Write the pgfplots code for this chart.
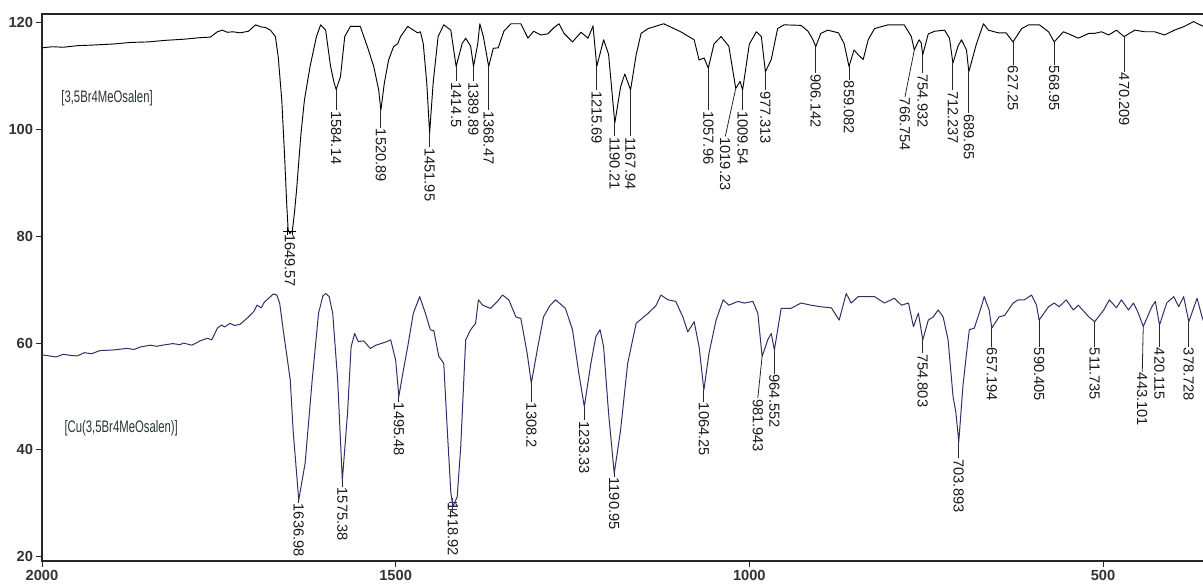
\documentclass[border=0pt]{standalone}
\usepackage{pgfplots}
\pgfplotsset{compat=1.18}
\usepackage{pgfplotstable}
\usepackage{fontspec}
\setmainfont{Liberation Sans}
\definecolor{navy}{RGB}{48,48,104}
\definecolor{namecol}{RGB}{40,52,52}
\tikzset{
  pkline/.style={black!85, line width=0.6pt},
  pklabel/.style={rotate=-90, anchor=west, inner sep=0.6pt, font=\fontsize{11}{11}\selectfont, text=black!90},
}

\pgfplotstableread{
x y
2000 115.3
1985 115.5
1970 115.4
1950 115.7
1930 115.8
1900 116.0
1875 116.3
1850 116.4
1825 116.7
1800 116.9
1776 117.2
1762 117.3
1752 118.3
1745 118.6
1738 118.2
1730 118.3
1720 118.1
1708 118.4
1698 119.6
1690 119.2
1684 119.1
1677 118.6
1670 117.4
1666 113.6
1661 105.5
1657 95.0
1654 86.0
1652 81.2
1649.6 80.5
1646 81.1
1643 84.5
1640 88.8
1634 99.0
1629 105.5
1621 111.8
1612 117.4
1606 119.6
1599 118.6
1592 111.8
1587 108.7
1584.1 107.5
1578 109.9
1572 117.4
1564 119.3
1550 119.3
1540 115.5
1531 111.8
1524 107.4
1520.9 103.6
1516 108.7
1510 113.0
1503 115.5
1497 116.1
1493 117.4
1483 119.3
1469 118.1
1465 118.3
1461 116.1
1456 108.7
1452 99.3
1447 108.7
1440 117.4
1432 119.6
1422 118.6
1414.5 111.8
1406 116.1
1401 117.1
1394 115.6
1389.9 111.8
1384 116.0
1381 119.8
1376 117.4
1368.5 111.8
1362 115.2
1355 115.3
1347 118.4
1337 119.8
1323 119.8
1313 117.1
1305 118.4
1295 117.7
1285 117.9
1276 119.1
1269 119.8
1262 118.0
1250 116.4
1238 118.2
1228 117.1
1221 119.4
1215.7 111.8
1206 116.8
1199 114.1
1190.2 101.2
1182 108.0
1176 110.4
1167.9 107.4
1160 114.0
1153 118.0
1143 118.9
1121 119.8
1097 118.3
1078 116.8
1071 113.0
1064 113.4
1058 111.5
1050 116.0
1040 117.4
1029 115.6
1019.2 107.7
1013 109.0
1009.5 107.4
1000 116.0
990 118.3
983 117.4
977.3 110.8
969 113.1
960 118.9
951 119.6
927 119.5
917 118.4
910 116.8
906.1 115.5
899 118.0
889 118.6
874 118.1
866 116.1
859.1 111.8
852 114.9
846 114.0
839 113.1
832 116.8
823 118.9
804 119.6
781 119.6
771 117.4
766.8 114.9
760 116.8
757 116.2
754.9 114.0
747 117.9
738 118.4
724 118.6
717 117.1
712.2 112.4
705 115.6
700 116.8
693 114.9
689.7 110.8
679 116.0
669 119.8
662 118.6
648 118.1
637 118.1
627.3 116.4
615 118.9
605 119.6
590 119.6
577 118.3
569 116.4
556 118.3
545 117.7
535 117.1
520 118.0
512 118.0
502 118.3
492 117.7
481 118.6
470.2 117.4
455 118.6
441 118.3
427 118.3
413 117.7
399 118.6
385 119.3
372 120.2
358 119.3
350 119.0
}\topspec

\pgfplotstableread{
x y
2000 57.8
1990 57.6
1980 57.4
1970 57.9
1960 57.7
1950 57.6
1940 58.2
1930 58.0
1918 58.6
1900 58.7
1880 59.0
1870 58.8
1860 59.3
1847 59.6
1838 59.4
1830 59.6
1815 59.9
1805 59.7
1800 60.0
1788 59.6
1775 60.5
1766 60.9
1760 60.6
1752 62.8
1746 63.4
1742 63.0
1734 63.7
1728 63.3
1720 63.5
1714 64.2
1708 64.9
1700 66.0
1696 67.1
1690 66.6
1686 67.6
1682 68.1
1677 68.7
1673 69.2
1668 69.0
1664 67.5
1659 62.5
1649 53.1
1645 43.7
1637 30.6
1628 37.5
1618 53.1
1609 65.6
1603 68.8
1599 69.3
1594 68.7
1589 65.6
1582 53.1
1575.4 34.3
1568 46.9
1563 59.3
1558 61.8
1553 60.3
1545 60.4
1536 59.0
1528 59.6
1521 59.9
1514 60.2
1507 60.6
1500 56.8
1495.5 50.0
1489 55.0
1483 59.3
1475 65.6
1466 68.7
1458 65.6
1451 62.5
1446 62.3
1439 57.5
1432 56.2
1427 43.7
1422 32.0
1419 29.4
1413 31.2
1408 40.6
1403 55.0
1401 60.6
1394 62.5
1387 63.7
1383 68.1
1377 67.1
1366 66.5
1356 67.8
1349 69.0
1340 68.1
1330 64.9
1323 64.6
1314 58.0
1308.2 52.5
1299 59.3
1291 64.9
1282 67.0
1274 68.1
1260 66.5
1250 62.5
1241 54.3
1233.3 48.1
1224 56.2
1217 61.2
1211 62.5
1206 59.3
1199 46.9
1191 35.6
1182 43.7
1172 56.2
1160 63.7
1143 65.6
1132 67.0
1125 69.0
1115 68.1
1104 67.8
1094 64.9
1087 62.1
1078 64.0
1071 59.3
1064.3 51.2
1057 58.1
1047 64.3
1037 68.1
1029 67.1
1016 67.8
1007 67.5
995 67.8
988 65.6
981.9 57.5
974 60.6
969 61.8
964.6 58.7
955 66.5
941 66.5
927 67.5
913 67.1
899 66.8
884 66.6
873 64.3
863 69.3
856 67.5
846 68.7
823 68.7
809 67.5
795 68.4
785 67.1
775 67.5
768 63.1
761 65.6
754.8 60.6
747 64.3
740 64.9
733 66.2
726 64.9
719 60.6
712 50.0
708 47.0
703.9 41.5
698 52.0
693 58.0
689 62.5
682 62.8
672 66.8
668 68.7
661 66.2
657.2 62.8
647 64.9
639 65.2
627 67.5
620 68.1
611 68.1
601 69.0
594 67.1
590.4 64.3
577 66.8
569 67.5
562 66.8
552 68.1
542 66.2
535 67.1
520 64.9
511.7 64.0
499 66.2
491 68.1
481 66.6
474 68.1
464 66.2
457 67.5
450 65.6
443.1 63.1
431 66.8
426 67.8
420.1 63.4
410 67.5
400 68.7
393 66.8
386 68.7
378.7 64.0
367 68.4
360 64.9
352 62.0
}\botspec

\newcommand{\pk}[5]{%
  \draw[pkline] (axis cs:#1,#2) -- (axis cs:#3,#4);
  \node[pklabel] at (axis cs:#3,#4) {#5};}

\begin{document}
\begin{tikzpicture}
\begin{axis}[
  scale only axis,
  width=873pt, height=410.25pt,
  x dir=reverse,
  xmin=354.4, xmax=2000,
  ymin=19.19, ymax=121.63,
  xtick={500,1000,1500,2000},
  ytick={20,40,60,80,100,120},
  tick align=outside,
  xtick pos=bottom, ytick pos=left,
  major tick length=4.5pt,
  tick style={black!85, line width=0.7pt},
  axis line style={black!85, line width=0.8pt},
  /pgf/number format/assume math mode=true,
  /pgf/number format/1000 sep={},
  ticklabel style={font=\bfseries\fontsize{11}{11}\selectfont, text=black!80, inner sep=1pt},
  yticklabel style={xshift=-1pt},
  xticklabel style={yshift=-1pt},
  clip=true,
]
\addplot[black, line width=0.7pt, line join=round] table[x=x,y=y] {\topspec};
\addplot[navy, line width=0.75pt, line join=round] table[x=x,y=y] {\botspec};

\addplot[only marks, mark=+, mark size=3pt, black, mark options={line width=0.6pt}] coordinates {(1653,81.0) (1646,81.0)};
\addplot[only marks, mark=+, mark size=3.2pt, navy, mark options={line width=0.8pt}] coordinates {(1419,30.1) (1419,28.9)};

\node[namecol, font=\fontsize{12.5}{12.5}\selectfont, xscale=0.68] at (axis cs:1908,105.9) {[3,5Br4MeOsalen]};
\node[namecol, font=\fontsize{12.5}{12.5}\selectfont, xscale=0.68] at (axis cs:1888,44.1) {[Cu(3,5Br4MeOsalen)]};

% top spectrum peaks
\node[pklabel] at (axis cs:1649.57,80.6) {1649.57};
\pk{1584.14}{107.5}{1584.14}{103.6}{1584.14}
\pk{1520.89}{103.6}{1520.89}{100.3}{1520.89}
\pk{1451.95}{99.3}{1451.95}{96.7}{1451.95}
\pk{1414.5}{111.8}{1414.5}{109.0}{1414.5}
\pk{1389.89}{111.8}{1389.89}{109.0}{1389.89}
\pk{1368.47}{111.8}{1368.47}{103.6}{1368.47}
\pk{1215.69}{111.8}{1215.69}{107.4}{1215.69}
\pk{1190.21}{101.2}{1190.21}{98.7}{1190.21}
\pk{1167.94}{107.4}{1167.94}{98.7}{1167.94}
\pk{1057.96}{111.5}{1057.96}{103.6}{1057.96}
\pk{1019.23}{107.7}{1034}{98.7}{1019.23}
\pk{1009.54}{107.4}{1009.54}{103.6}{1009.54}
\pk{977.313}{110.8}{977.313}{107.4}{977.313}
\pk{906.142}{115.5}{906.142}{110.5}{906.142}
\pk{859.082}{111.8}{859.082}{109.3}{859.082}
\pk{766.754}{114.9}{780}{106.1}{766.754}
\pk{754.932}{114.0}{754.932}{110.5}{754.932}
\pk{712.237}{112.4}{712.237}{107.4}{712.237}
\pk{689.65}{110.8}{689.65}{103.0}{689.65}
\pk{627.25}{116.4}{627.25}{112.1}{627.25}
\pk{568.95}{116.4}{568.95}{112.1}{568.95}
\pk{470.209}{117.4}{470.209}{110.8}{470.209}

% bottom spectrum peaks
\pk{1636.98}{30.6}{1636.98}{30.1}{1636.98}
\pk{1575.38}{34.3}{1575.38}{33.1}{1575.38}
\pk{1495.48}{50.0}{1495.48}{49.0}{1495.48}
\node[pklabel] at (axis cs:1418.92,30.3) {1418.92};
\pk{1308.2}{52.5}{1308.2}{49.0}{1308.2}
\pk{1233.33}{48.1}{1233.33}{45.6}{1233.33}
\pk{1190.95}{35.6}{1190.95}{35.0}{1190.95}
\pk{1064.25}{51.2}{1064.25}{49.0}{1064.25}
\pk{981.943}{57.5}{988}{49.7}{981.943}
\pk{964.552}{58.7}{964.552}{54.3}{964.552}
\pk{754.803}{60.6}{754.803}{58.1}{754.803}
\pk{703.893}{41.5}{703.893}{38.4}{703.893}
\pk{657.194}{62.8}{657.194}{59.3}{657.194}
\pk{590.405}{64.3}{590.405}{59.3}{590.405}
\pk{511.735}{64.0}{511.735}{59.3}{511.735}
\pk{443.101}{63.1}{444.5}{54.6}{443.101}
\pk{420.115}{63.4}{420.115}{59.3}{420.115}
\pk{378.728}{64.0}{378.728}{59.3}{378.728}
\end{axis}
\pgfresetboundingbox
\path (-31.5pt,-17.25pt) rectangle (870.75pt,420.75pt);
\end{tikzpicture}
\end{document}
